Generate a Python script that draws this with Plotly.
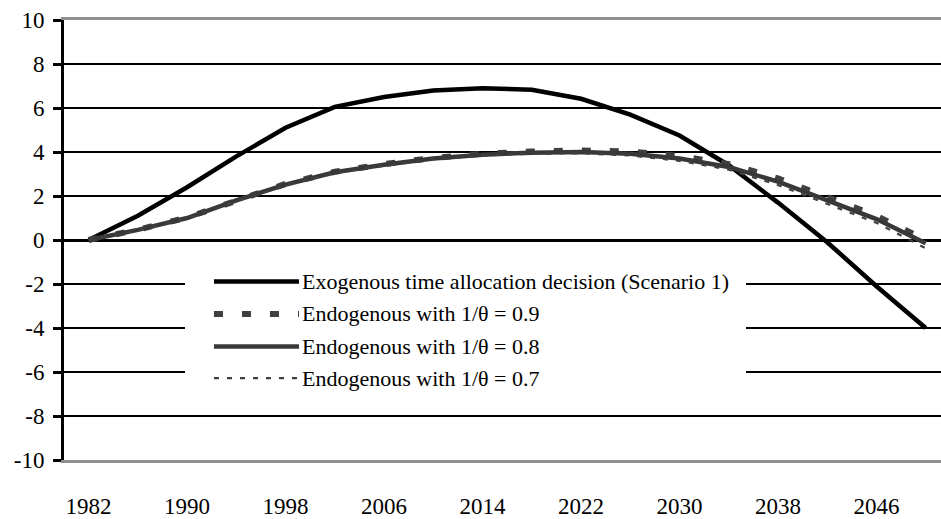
import plotly.graph_objects as go

# Simulation years (4-year steps)
years = list(range(1982, 2051, 4))

# Percent deviation paths
exogenous = [0, 1.1, 2.4, 3.8, 5.1, 6.05, 6.5, 6.8, 6.9, 6.83, 6.42, 5.7, 4.75, 3.4, 1.7, -0.1, -2.1, -4.0]
endo_09 = [0, 0.47, 1.02, 1.82, 2.55, 3.1, 3.45, 3.73, 3.92, 4.02, 4.07, 4.02, 3.82, 3.45, 2.8, 1.95, 1.1, 0.0]
endo_08 = [0, 0.46, 1.0, 1.8, 2.52, 3.08, 3.42, 3.7, 3.88, 3.97, 4.0, 3.92, 3.7, 3.32, 2.65, 1.8, 0.95, -0.15]
endo_07 = [0, 0.45, 0.98, 1.77, 2.48, 3.04, 3.38, 3.66, 3.84, 3.92, 3.94, 3.84, 3.6, 3.2, 2.5, 1.63, 0.78, -0.38]

x_ticks = list(range(1982, 2047, 8))
y_ticks = list(range(-10, 11, 2))
y_grid = [v for v in y_ticks if abs(v) < 10]

series_names = [
    "Exogenous time allocation decision (Scenario 1)",
    "Endogenous with 1/\u03b8 = 0.9",
    "Endogenous with 1/\u03b8 = 0.8",
    "Endogenous with 1/\u03b8 = 0.7",
]

FONT = "Liberation Serif"
W, H = 941, 519
ML, MR, MT, MB = 64, 0, 20, 53

styles = [
    dict(color="#000000", width=4.5, dash="solid"),
    dict(color="#404040", width=6, dash="9px,19px"),
    dict(color="#383838", width=4.5, dash="solid"),
    dict(color="#404040", width=2.2, dash="5px,8px"),
]

fig = go.Figure()
for name, vals, st in zip(series_names, [exogenous, endo_09, endo_08, endo_07], styles):
    fig.add_trace(go.Scatter(x=years, y=vals, mode="lines", name=name,
                             line=st, showlegend=False))

# Legend box drawn in pixel-aligned paper coordinates
pw, ph = W - ML - MR, H - MT - MB
def px(x):
    return (x - ML) / pw
def py(y):
    return (H - MB - y) / ph

shapes = [dict(type="rect", xref="paper", yref="paper",
               x0=px(185), x1=px(746), y0=py(400), y1=py(266),
               fillcolor="white", line=dict(width=0), layer="above")]
annotations = []
rows = [285, 318, 351, 383]
for name, st, ry in zip(series_names, styles, rows):
    shapes.append(dict(type="line", xref="paper", yref="paper",
                       x0=px(214), x1=px(299), y0=py(ry), y1=py(ry),
                       line=dict(color=st["color"], width=st["width"], dash=st["dash"]),
                       layer="above"))
    annotations.append(dict(xref="paper", yref="paper", x=px(300), y=py(ry),
                            xanchor="left", yanchor="middle", showarrow=False,
                            text=name, font=dict(family=FONT, size=22, color="#000")))

fig.update_layout(
    width=W, height=H,
    margin=dict(l=ML, r=MR, t=MT, b=MB, pad=0),
    paper_bgcolor="white", plot_bgcolor="white",
    shapes=shapes, annotations=annotations,
    showlegend=False,
)
fig.update_xaxes(
    range=[1980, 1980 + pw / 12.31],
    tickvals=x_ticks, ticktext=[str(t) for t in x_ticks],
    ticks="", showgrid=False, zeroline=False,
    showline=True, linecolor="#8f8f8f", linewidth=3, mirror=True,
    tickfont=dict(family=FONT, size=23, color="#000"),
    ticklabelstandoff=23,
)
fig.update_yaxes(
    range=[-10, 10], tickvals=y_ticks, ticktext=[str(v) for v in y_ticks],
    ticks="outside", ticklen=8, tickwidth=2.5, tickcolor="#000",
    showgrid=False,
    minor=dict(tickvals=y_grid, showgrid=True, gridcolor="#000", gridwidth=2.2, ticks=""),
    zeroline=True, zerolinecolor="#000", zerolinewidth=3,
    showline=True, linecolor="#000", linewidth=2.8,
    tickfont=dict(family=FONT, size=23, color="#000"),
    ticklabelstandoff=4,
)

fig.write_html("out.html")
